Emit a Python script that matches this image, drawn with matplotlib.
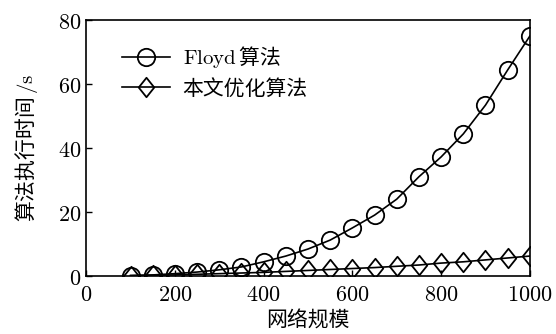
import matplotlib
matplotlib.use("Agg")
import matplotlib.pyplot as plt
from matplotlib.path import Path
import numpy as np

plt.rcParams['font.family'] = ['Noto Sans CJK SC', 'DejaVu Serif']
plt.rcParams['mathtext.fontset'] = 'cm'

# network size
sizes = [100, 150, 200, 250, 300, 350, 400, 450, 500, 550,
         600, 650, 700, 750, 800, 850, 900, 950, 1000]
# run time (s)
floyd = [0.1, 0.3, 0.7, 1.2, 1.9, 2.8, 4.4, 6.2, 8.4, 11.2,
         15.0, 19.0, 24.0, 31.0, 37.2, 44.4, 53.4, 64.4, 75.0]
ours = [0.1, 0.2, 0.3, 0.5, 0.7, 0.9, 1.1, 1.4, 1.7, 2.0,
        2.3, 2.6, 3.0, 3.4, 4.0, 4.4, 5.0, 5.6, 6.2]

xticks = [0, 200, 400, 600, 800, 1000]
yticks = [0, 20, 40, 60, 80]

# slightly tall diamond
diamond = Path([(0, 1), (0.8, 0), (0, -1), (-0.8, 0), (0, 1)],
               [Path.MOVETO, Path.LINETO, Path.LINETO, Path.LINETO, Path.CLOSEPOLY])

fig = plt.figure(figsize=(5.56, 3.34), dpi=100)
ax = fig.add_axes([0.155, 0.174, 0.798, 0.766])

ax.plot(sizes, floyd, color='black', lw=1.2, marker='o', ms=12.5,
        mfc='none', mec='black', mew=1.3, label=r'$\mathrm{Floyd}\,$算法')
ax.plot(sizes, ours, color='black', lw=1.2, marker=diamond, ms=14,
        mfc='none', mec='black', mew=1.3, label='本文优化算法')

ax.set_xlim(0, 1000)
ax.set_ylim(0, 80)
ax.set_xticks(xticks)
ax.set_yticks(yticks)
ax.set_xticklabels([f'${t}$' for t in xticks], fontsize=16)
ax.set_yticklabels([f'${t}$' for t in yticks], fontsize=16)
ax.tick_params(direction='in', length=4, width=1, top=False, right=False)
ax.tick_params(axis='x', pad=5)
for s in ax.spines.values():
    s.set_linewidth(1.2)

ax.set_xlabel('网络规模', fontsize=15, labelpad=3)
ax.set_ylabel(r'算法执行时间$\,/\mathrm{s}$', fontsize=15, labelpad=13)

ax.legend(loc='upper left', frameon=False, fontsize=15, handlelength=2.3,
          handletextpad=0.6, bbox_to_anchor=(0.081, 0.905), borderaxespad=0,
          borderpad=0, labelspacing=0.35)

fig.savefig('out.png', dpi=100)
